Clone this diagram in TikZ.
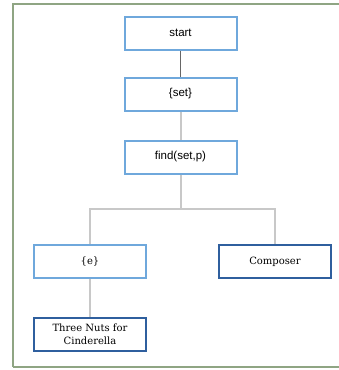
\documentclass[tikz,border=0pt]{standalone}
\usepackage{fontspec}
\setmainfont{DejaVu Serif}
\newfontfamily\boxsans{Liberation Sans}
\usetikzlibrary{positioning}

\definecolor{framegreen}{HTML}{8FA583}
\definecolor{lightblue}{HTML}{6FA8DC}
\definecolor{darkblue}{HTML}{2F5F9E}
\definecolor{linegray}{HTML}{C8C8C8}
\definecolor{linedark}{HTML}{666666}

\begin{document}
\begin{tikzpicture}[x=1pt, y=1pt]
\tikzstyle{step box}=[rectangle, draw=lightblue, line width=2pt, fill=white, minimum width=112pt, minimum height=33pt, inner sep=2pt]
\tikzstyle{sans box}=[step box, font=\boxsans\fontsize{11.5}{13}\selectfont]
\tikzstyle{serif box}=[step box, font=\fontsize{10}{13.3}\selectfont, align=center]
\tikzstyle{leaf box}=[serif box, draw=darkblue]
\tikzstyle{link}=[linegray, line width=2pt]

\useasboundingbox (0,0) rectangle (339,-370);

% outer frame
\draw[framegreen, line width=2pt] (13,-367) -- (13,-4) -- (350,-4);
\draw[framegreen, line width=2pt] (13,-367) -- (350,-367);

% the steps
\node[sans box] (start) at (180.5,-33) {start};
\node[sans box] (set) at (180.5,-94) {\{set\}};
\node[sans box] (find) at (180.5,-157) {find(set,p)};
\node[serif box] (elem) at (90,-261.5) {\{e\}};
\node[leaf box] (composer) at (275,-261.5) {Composer};
\node[leaf box] (nuts) at (90,-334) {Three Nuts for\\Cinderella};

% connectors
\coordinate (fork) at (180.5,-209);
\draw[linedark, line width=1.2pt] (start) -- (set);
\draw[link] (set) -- (find);
\draw[link] (find) -- (fork);
\draw[link] (fork) -| (elem);
\draw[link] (fork) -| (composer);
\draw[link] (elem) -- (nuts);

\end{tikzpicture}
\end{document}
